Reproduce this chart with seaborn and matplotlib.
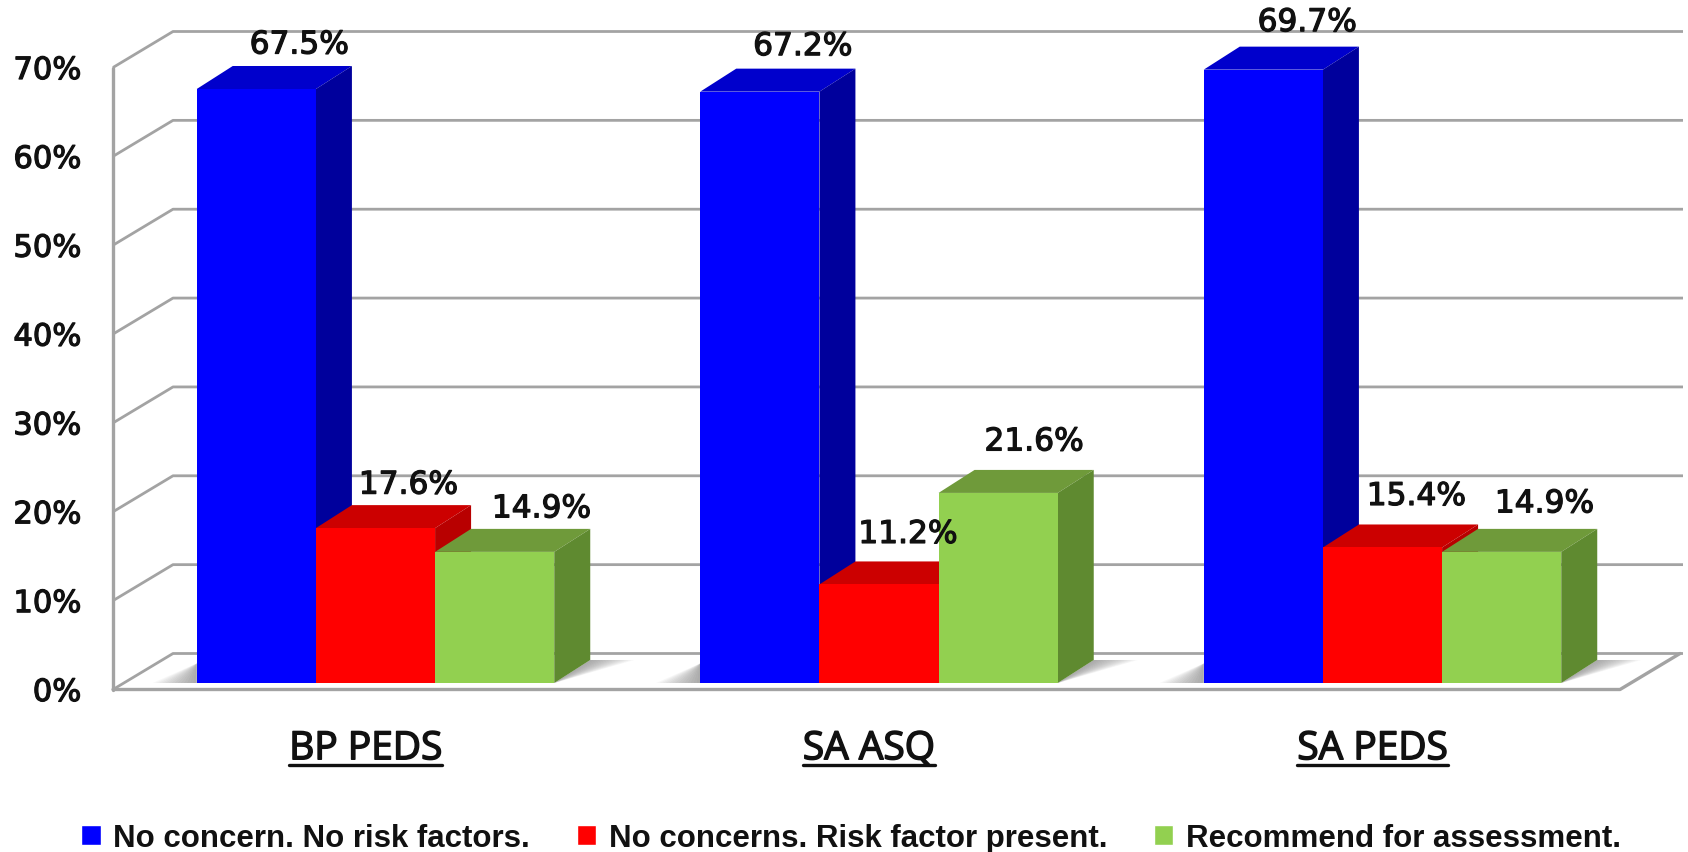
import matplotlib
matplotlib.use("Agg")
import matplotlib.pyplot as plt
import matplotlib.patheffects as pe
from matplotlib.patches import Polygon
from matplotlib.transforms import ScaledTranslation
import pandas as pd
import seaborn as sns

# Screening results per instrument and outcome group (percent)
instruments = ["BP PEDS", "SA ASQ", "SA PEDS"]
outcomes = ["No concern. No risk factors.", "No concerns. Risk factor present.", "Recommend for assessment."]
no_concern = [67.5, 67.2, 69.7]
risk_factor = [17.6, 11.2, 15.4]
recommend = [14.9, 21.6, 14.9]
y_ticks = [0, 10, 20, 30, 40, 50, 60, 70]

front_colors = ["#0000ff", "#ff0000", "#92d050"]
top_colors = ["#0000cc", "#cc0000", "#6f9a3a"]
side_colors = ["#00009c", "#b80000", "#5f8a30"]
grid_color = "#a3a3a3"

W, H = 1688, 853
DPI = 100

df = pd.DataFrame({
    "instrument": instruments * 3,
    "outcome": [o for o in outcomes for _ in instruments],
    "share": no_concern + risk_factor + recommend,
})

sns.set_style("white")
plt.rcParams["font.family"] = ["DejaVu Sans"]
fig = plt.figure(figsize=(W / DPI, H / DPI), dpi=DPI, facecolor="white")


def axes_px(left, right, top, bottom):
    return fig.add_axes([left / W, 1 - bottom / H, (right - left) / W, (bottom - top) / H])


stroke = [pe.withStroke(linewidth=0.9, foreground="#111111")]
GROUP_PX = 503.5
xlim = ((113 - 375.5) / GROUP_PX, (1620 - 375.5) / GROUP_PX)

# Box walls, floor and value axis
wall = axes_px(113, 1620, 68.5, 690.5)
wall.set_xlim(*xlim)
wall.set_ylim(0, 70)
wall.set_zorder(0)
wall.patch.set_visible(False)
sns.despine(ax=wall, left=True, bottom=True)
wall.set_xticks([])
wall.set_yticks(y_ticks)
wall.set_yticklabels([f"{v}%" for v in y_ticks], fontsize=22, color="#111111", path_effects=stroke)
wall.tick_params(axis="y", length=0, pad=23)

wall_dx = 60 / GROUP_PX
wall_dy = 36 / (622 / 70)
for v in y_ticks:
    wall.plot([xlim[0], xlim[0] + wall_dx, xlim[1] + wall_dx + 3 / GROUP_PX],
              [v, v + wall_dy, v + wall_dy],
              color=grid_color, lw=2.0, clip_on=False, solid_capstyle="butt")
wall.plot([xlim[0], xlim[0]], [0, 70], color=grid_color, lw=2.4, clip_on=False)
wall.plot([xlim[0], xlim[1], xlim[1] + wall_dx], [0, 0, wall_dy],
          color=grid_color, lw=2.4, clip_on=False)

# Front faces of the bars
ax = axes_px(113, 1620, 68, 684)
ax.set_zorder(1)
ax.patch.set_visible(False)
sns.barplot(data=df, x="instrument", y="share", hue="outcome", hue_order=outcomes,
            order=instruments, palette=front_colors, saturation=1, width=0.71, gap=0,
            ax=ax, legend=True)
ax.set_xlim(*xlim)
ax.set_ylim(0, 70)
ax.set_xlabel("")
ax.set_ylabel("")
ax.set_yticks([])
sns.despine(ax=ax, left=True, bottom=True)

depth_x = 36 / GROUP_PX
depth_y = 23 / 8.8

# Top and side faces, plus the soft shadow on the floor
for h, container in enumerate(ax.containers):
    for bar in container:
        x0, w, top = bar.get_x(), bar.get_width(), bar.get_height()
        x1 = x0 + w
        bar.set_zorder(4 + 2 * h)
        bar.set_linewidth(0)
        ax.add_patch(Polygon([(x0, top), (x0 + depth_x, top + depth_y),
                              (x1 + depth_x, top + depth_y), (x1, top)],
                             closed=True, fc=top_colors[h], ec="none", zorder=3 + 2 * h, clip_on=False))
        ax.add_patch(Polygon([(x1, 0), (x1 + depth_x, depth_y),
                              (x1 + depth_x, top + depth_y), (x1, top)],
                             closed=True, fc=side_colors[h], ec="none", zorder=3 + 2 * h, clip_on=False))

n_groups = len(instruments)
for g in range(n_groups):
    left = ax.containers[0][g].get_x()
    right = ax.containers[-1][g].get_x() + ax.containers[-1][g].get_width()
    for k in range(1, 15):
        reach = (44 / GROUP_PX) * k / 14
        ax.add_patch(Polygon([(right, 0), (right + depth_x, depth_y),
                              (right + depth_x + reach, depth_y)],
                             closed=True, fc="#666666", ec="none", alpha=0.05, zorder=2, clip_on=False))
        ax.add_patch(Polygon([(left, 0), (left, depth_y * 0.85), (left - reach, 0)],
                             closed=True, fc="#666666", ec="none", alpha=0.05, zorder=2, clip_on=False))

# Value labels, nudged clear of each bar's top face
label_shift = [
    [(43, 44), (43, 45), (44, 47)],
    [(33, 43), (29, 50), (34, 51)],
    [(47, 43), (36, 51), (43, 48)],
]
for h, container in enumerate(ax.containers):
    for g, bar in enumerate(container):
        ax.annotate(f"{bar.get_height():.1f}%",
                    xy=(bar.get_x() + bar.get_width() / 2, bar.get_height()),
                    xytext=label_shift[h][g], textcoords="offset pixels",
                    ha="center", va="center", fontsize=22.5, color="#111111",
                    path_effects=stroke, annotation_clip=False, zorder=20)

# Underlined instrument names
ax.set_xticks(range(n_groups))
ax.set_xticklabels(instruments, fontsize=28, fontfamily="Open Sans", color="#111111",
                   path_effects=[pe.withStroke(linewidth=1.1, foreground="#111111")])
ax.tick_params(axis="x", length=0, pad=34)
shift = ScaledTranslation(-10 / DPI, 0, fig.dpi_scale_trans)
for lab in ax.get_xticklabels():
    lab.set_transform(lab.get_transform() + shift)

# Legend along the bottom edge
handles, labels = ax.get_legend_handles_labels()
ax.get_legend().remove()
fig.legend(handles, labels, loc="center", bbox_to_anchor=(851 / W, 1 - 839 / H), ncol=3,
           frameon=False, handlelength=0.62, handleheight=0.62, handletextpad=0.4,
           columnspacing=1.5, prop={"family": "Liberation Sans", "weight": "bold", "size": 22.5},
           labelcolor="#111111")

fig.canvas.draw()
renderer = fig.canvas.get_renderer()
for lab in ax.get_xticklabels():
    box = lab.get_window_extent(renderer)
    y = (H - 766) / H
    fig.add_artist(plt.Line2D([box.x0 / W, box.x1 / W], [y, y], color="#111111", lw=2.4))

fig.savefig("out.png", dpi=DPI, facecolor="white")
